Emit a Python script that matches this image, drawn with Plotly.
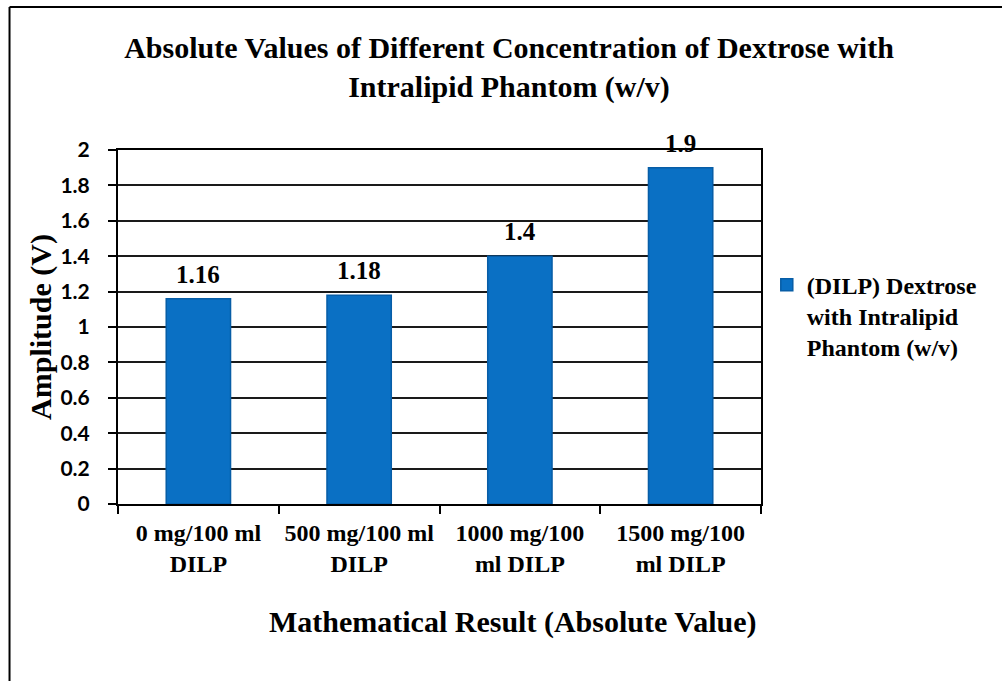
import plotly.graph_objects as go

categories = ["0 mg/100 ml<br>DILP", "500 mg/100 ml<br>DILP",
              "1000 mg/100<br>ml DILP", "1500 mg/100<br>ml DILP"]
amplitude = [1.16, 1.18, 1.4, 1.9]
y_ticks = [0, 0.2, 0.4, 0.6, 0.8, 1, 1.2, 1.4, 1.6, 1.8, 2]
y_tick_text = ["0", "0.2", "0.4", "0.6", "0.8", "1", "1.2", "1.4", "1.6", "1.8", "2"]
series_name = "<b>(DILP) Dextrose<br>with Intralipid<br>Phantom (w/v)</b>"
x_title = "Mathematical Result (Absolute Value)"
y_title = "Amplitude (V)"

SERIF = "Liberation Serif, Times New Roman, serif"
SANS = "Lato, Liberation Sans, Arial, sans-serif"

fig = go.Figure()
fig.add_trace(go.Bar(
    x=categories, y=amplitude, name=series_name, width=0.4,
    marker=dict(color="#0A70C4", line=dict(color="#075DA6", width=1.5)),
    showlegend=True,
))

# value labels above each bar
for c, v in zip(categories, amplitude):
    fig.add_annotation(x=c, y=v, text=f"<b>{v:g}</b>", showarrow=False,
                       yanchor="bottom", yshift=9,
                       font=dict(family=SERIF, size=25, color="black"))

# x-axis title, set a little right of the plot centre
fig.add_annotation(xref="paper", yref="paper", x=0.614, y=-0.333,
                   xanchor="center", yanchor="middle", showarrow=False,
                   text=f"<b>{x_title}</b>",
                   font=dict(family=SERIF, size=30, color="black"))

# outer frame (left and top edges)
fig.add_shape(type="line", xref="paper", yref="paper",
              x0=-0.1687, x1=1.5, y0=1.404, y1=1.404,
              line=dict(color="black", width=2))
fig.add_shape(type="line", xref="paper", yref="paper",
              x0=-0.1687, x1=-0.1687, y0=1.404, y1=-0.6,
              line=dict(color="black", width=2))

fig.update_layout(
    width=1002, height=681,
    margin=dict(l=118, r=241, t=150, b=177),
    paper_bgcolor="white", plot_bgcolor="white",
    title=dict(text="<b>Absolute Values of Different Concentration of Dextrose with<br>Intralipid Phantom (w/v)</b>",
               x=0.508, xanchor="center", y=0.915, yanchor="middle",
               font=dict(family=SERIF, size=30, color="black")),
    legend=dict(x=1.009, y=0.682, xanchor="left", yanchor="top", valign="top",
                font=dict(family=SERIF, size=24, color="black"),
                itemwidth=30, tracegroupgap=0),
    showlegend=True,
    bargap=0.6,
)
fig.update_xaxes(
    showline=True, linecolor="black", linewidth=2, mirror=True,
    ticks="outside", tickson="boundaries", ticklen=8, tickwidth=2, tickcolor="black",
    tickfont=dict(family=SERIF, size=24, color="black"),
    tickprefix="<b>", ticksuffix="</b>", ticklabelstandoff=6,
    showgrid=False,
)
fig.update_yaxes(
    range=[0, 2], tickvals=y_ticks, ticktext=[f"<b>{t}</b>" for t in y_tick_text],
    showline=True, linecolor="black", linewidth=2, mirror=True,
    ticks="outside", ticklen=8, tickwidth=2, tickcolor="black",
    tickfont=dict(family=SANS, size=21, color="black"), ticklabelstandoff=14,
    showgrid=True, gridcolor="#1a1a1a", gridwidth=2, zeroline=False,
    title=dict(text=f"<b>{y_title}</b>",
               font=dict(family=SERIF, size=30, color="black"), standoff=0),
)

fig.write_html("out.html")
